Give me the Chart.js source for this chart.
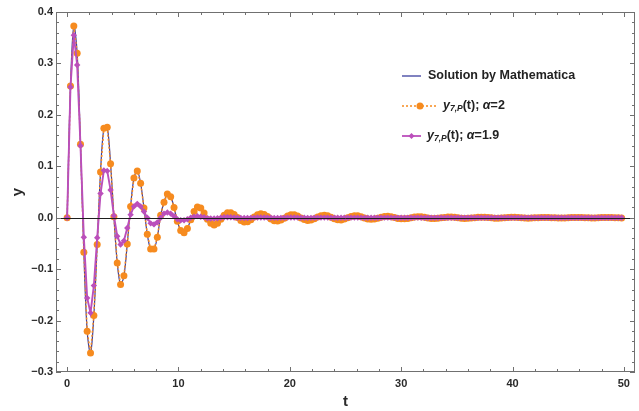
<!DOCTYPE html>
<html>
<head>
<meta charset="utf-8">
<script src="https://cdn.jsdelivr.net/npm/chart.js@4.4.1/dist/chart.umd.min.js"></script>
<style>
  html, body { margin: 0; padding: 0; background: #fff; }
  #wrap { width: 639px; height: 411px; position: relative; }
</style>
</head>
<body>
<div id="wrap"><canvas id="chart"></canvas></div>
<script>
// sample times
const tValues = [
    0, 0.3, 0.6, 0.9, 1.2, 1.5, 1.8, 2.1, 2.4, 2.7,
    3, 3.3, 3.6, 3.9, 4.2, 4.5, 4.8, 5.1, 5.4, 5.7,
    6, 6.3, 6.6, 6.9, 7.2, 7.5, 7.8, 8.1, 8.4, 8.7,
    9, 9.3, 9.6, 9.9, 10.2, 10.5, 10.8, 11.1, 11.4, 11.7,
    12, 12.3, 12.6, 12.9, 13.2, 13.5, 13.8, 14.1, 14.4, 14.7,
    15, 15.3, 15.6, 15.9, 16.2, 16.5, 16.8, 17.1, 17.4, 17.7,
    18, 18.3, 18.6, 18.9, 19.2, 19.5, 19.8, 20.1, 20.4, 20.7,
    21, 21.3, 21.6, 21.9, 22.2, 22.5, 22.8, 23.1, 23.4, 23.7,
    24, 24.3, 24.6, 24.9, 25.2, 25.5, 25.8, 26.1, 26.4, 26.7,
    27, 27.3, 27.6, 27.9, 28.2, 28.5, 28.8, 29.1, 29.4, 29.7,
    30, 30.3, 30.6, 30.9, 31.2, 31.5, 31.8, 32.1, 32.4, 32.7,
    33, 33.3, 33.6, 33.9, 34.2, 34.5, 34.8, 35.1, 35.4, 35.7,
    36, 36.3, 36.6, 36.9, 37.2, 37.5, 37.8, 38.1, 38.4, 38.7,
    39, 39.3, 39.6, 39.9, 40.2, 40.5, 40.8, 41.1, 41.4, 41.7,
    42, 42.3, 42.6, 42.9, 43.2, 43.5, 43.8, 44.1, 44.4, 44.7,
    45, 45.3, 45.6, 45.9, 46.2, 46.5, 46.8, 47.1, 47.4, 47.7,
    48, 48.3, 48.6, 48.9, 49.2, 49.5, 49.8
];

// y7,P(t) with alpha = 2
const alpha2Y = [
    0, 0.256, 0.373, 0.320, 0.143, -0.067, -0.221, -0.263, -0.190, -0.052,
    0.089, 0.174, 0.176, 0.105, 0.002, -0.088, -0.130, -0.113, -0.051, 0.022,
    0.077, 0.091, 0.067, 0.019, -0.032, -0.061, -0.061, -0.038, 0.005, 0.030,
    0.046, 0.041, 0.020, -0.007, -0.025, -0.029, -0.021, -0.004, 0.012, 0.021,
    0.019, 0.009, -0.003, -0.011, -0.014, -0.011, -0.003, 0.005, 0.0095, 0.0098,
    0.0061, 0.0002, -0.0054, -0.0085, -0.0079, -0.0040, 0.0014, 0.0060, 0.0077, 0.0062,
    0.0022, -0.0025, -0.0060, -0.0066, -0.0046, -0.0008, 0.0032, 0.0056, 0.0056, 0.0032,
    -0.0004, -0.0037, -0.0054, -0.0046, -0.0021, 0.0013, 0.0039, 0.0048, 0.0036, 0.0010,
    -0.0019, -0.0040, -0.0043, -0.0027, -0.0001, 0.0025, 0.0039, 0.0037, 0.0019, -0.0006,
    -0.0023, -0.0031, -0.0026, -0.0009, 0.0010, 0.0025, 0.0029, 0.0020, 0.0003, -0.0014,
    -0.0021, -0.0021, -0.0013, 0.0001, 0.0014, 0.0021, 0.0018, 0.0008, -0.0005, -0.0016,
    -0.0015, -0.0012, -0.0003, 0.0006, 0.0013, 0.0014, 0.0009, 0.0001, -0.0008, -0.0013,
    -0.0010, -0.0005, 0.0001, 0.0008, 0.0010, 0.0009, 0.0003, -0.0003, -0.0008, -0.0009,
    -0.0006, -0.0001, 0.0004, 0.0008, 0.0008, 0.0005, 0.0000, -0.0005, -0.0008, -0.0007,
    -0.0003, 0.0001, 0.0005, 0.0006, 0.0005, 0.0001, -0.0002, -0.0005, -0.0006, -0.0004,
    0.0000, 0.0003, 0.0005, 0.0005, 0.0002, -0.0001, -0.0003, -0.0005, -0.0004, -0.0002,
    0.0002, 0.0004, 0.0005, 0.0003, 0.0001, -0.0002, -0.0004
];

// y7,P(t) with alpha = 1.9
const alpha19Y = [
    0, 0.254, 0.355, 0.297, 0.140, -0.038, -0.156, -0.185, -0.132, -0.039,
    0.047, 0.092, 0.091, 0.054, 0.004, -0.036, -0.052, -0.045, -0.020, 0.006,
    0.022, 0.027, 0.022, 0.012, 0.000, -0.011, -0.013, -0.009, 0.000, 0.008,
    0.010, 0.008, 0.003, -0.003, -0.005, -0.005, -0.003, 0.000, 0.002, 0.003,
    0.002, 0.001, -0.001, -0.0015, -0.0015, -0.001, 0.000, 0.0008, 0.001, 0.001,
    0.0005, 0.0000, -0.0004, -0.0006, -0.0006, -0.0003, 0.0001, 0.0004, 0.0005, 0.0004,
    0.0002, -0.0002, -0.0004, -0.0004, -0.0003, -0.0001, 0.0002, 0.0003, 0.0003, 0.0002,
    0.0000, -0.0002, -0.0003, -0.0003, -0.0001, 0.0001, 0.0002, 0.0002, 0.0002, 0.0000,
    -0.0001, -0.0002, -0.0002, -0.0001, 0.0000, 0.0001, 0.0001, 0.0001, 0.0001, 0.0000,
    -0.0001, -0.0001, -0.0001, 0.0000, 0.0000, 0.0001, 0.0001, 0.0001, 0.0000, 0.0000,
    -0.0001, -0.0001, 0, 0, 0.0001, 0.0001, 0, 0, 0, -0.0001,
    0, 0, 0, 0, 0, 0, 0, 0, 0, 0,
    0, 0, 0, 0, 0, 0, 0, 0, 0, 0,
    0, 0, 0, 0, 0, 0, 0, 0, 0, 0,
    0, 0, 0, 0, 0, 0, 0, 0, 0, 0,
    0, 0, 0, 0, 0, 0, 0, 0, 0, 0,
    0, 0, 0, 0, 0, 0, 0
];

// the alpha = 2 approximation sits on top of Mathematica's solution
const solutionY = alpha2Y;

const xTicks = [0, 10, 20, 30, 40, 50];
const yTicks = [-0.3, -0.2, -0.1, 0, 0.1, 0.2, 0.3, 0.4];

const BLUE = '#3c3f9e';
const ORANGE = '#f68b1f';
const PURPLE = '#bb4fbb';
const FONT = '"Liberation Sans", Arial, sans-serif';

const toPoints = ys => tValues.map((t, i) => ({ x: t, y: ys[i] }));

// frame with inward ticks on all four sides, plus the y = 0 axis
const framePlugin = {
    id: 'frame',
    afterDatasetsDraw(chart) {
        const { ctx, chartArea: a, scales: { x, y } } = chart;
        ctx.save();
        ctx.lineWidth = 1;

        const y0 = Math.round(y.getPixelForValue(0)) + 0.5;
        ctx.strokeStyle = '#1e1e1e';
        ctx.beginPath();
        ctx.moveTo(a.left, y0);
        ctx.lineTo(a.right, y0);
        ctx.stroke();

        ctx.strokeStyle = '#707070';
        ctx.strokeRect(a.left + 0.5, a.top + 0.5, a.right - a.left - 1, a.bottom - a.top - 1);

        ctx.beginPath();
        for (let v = 0; v <= 50; v += 2) {
            const len = v % 10 === 0 ? 5 : 3;
            const px = Math.round(x.getPixelForValue(v)) + 0.5;
            ctx.moveTo(px, a.bottom);
            ctx.lineTo(px, a.bottom - len);
            ctx.moveTo(px, a.top);
            ctx.lineTo(px, a.top + len);
        }
        for (let i = -15; i <= 20; i++) {
            const len = i % 5 === 0 ? 5 : 3;
            const py = Math.round(y.getPixelForValue(i * 0.02)) + 0.5;
            ctx.moveTo(a.left, py);
            ctx.lineTo(a.left + len, py);
            ctx.moveTo(a.right, py);
            ctx.lineTo(a.right - len, py);
        }
        ctx.stroke();
        ctx.restore();
    }
};

function drawRich(ctx, x, y, parts) {
    parts.forEach(p => {
        ctx.font = p.font;
        ctx.fillText(p.text, x, y + (p.dy || 0));
        x += ctx.measureText(p.text).width;
    });
}

// legend with the subscripted labels
const legendPlugin = {
    id: 'richLegend',
    afterDraw(chart) {
        const ctx = chart.ctx;
        const bold = 'bold 12.5px ' + FONT;
        const boldIt = 'italic bold 12.5px ' + FONT;
        const sub = 'italic bold 8.5px ' + FONT;
        ctx.save();
        ctx.textBaseline = 'middle';
        ctx.fillStyle = '#222';

        // row 1
        ctx.strokeStyle = BLUE;
        ctx.lineWidth = 1.3;
        ctx.beginPath();
        ctx.moveTo(402, 76);
        ctx.lineTo(421, 76);
        ctx.stroke();
        drawRich(ctx, 428, 76, [{ text: 'Solution by Mathematica', font: bold }]);

        // row 2
        ctx.strokeStyle = ORANGE;
        ctx.lineWidth = 1.6;
        ctx.setLineDash([2, 2]);
        ctx.beginPath();
        ctx.moveTo(402, 106);
        ctx.lineTo(436, 106);
        ctx.stroke();
        ctx.setLineDash([]);
        ctx.fillStyle = ORANGE;
        ctx.beginPath();
        ctx.arc(420, 106, 3.5, 0, Math.PI * 2);
        ctx.fill();
        ctx.fillStyle = '#222';
        drawRich(ctx, 443, 106, [
            { text: 'y', font: boldIt },
            { text: '7,P', font: sub, dy: 3 },
            { text: '(t); ', font: bold },
            { text: 'α', font: boldIt },
            { text: '=2', font: bold }
        ]);

        // row 3
        ctx.strokeStyle = PURPLE;
        ctx.lineWidth = 1.8;
        ctx.beginPath();
        ctx.moveTo(402, 136);
        ctx.lineTo(421, 136);
        ctx.stroke();
        ctx.fillStyle = PURPLE;
        ctx.beginPath();
        ctx.moveTo(411.5, 133);
        ctx.lineTo(414.5, 136);
        ctx.lineTo(411.5, 139);
        ctx.lineTo(408.5, 136);
        ctx.closePath();
        ctx.fill();
        ctx.fillStyle = '#222';
        drawRich(ctx, 427, 136, [
            { text: 'y', font: boldIt },
            { text: '7,P', font: sub, dy: 3 },
            { text: '(t); ', font: bold },
            { text: 'α', font: boldIt },
            { text: '=1.9', font: bold }
        ]);
        ctx.restore();
    }
};

const tickFont = { family: FONT, size: 11, weight: 'bold' };
const titleFont = { family: FONT, size: 15, weight: 'bold' };

new Chart(document.getElementById('chart'), {
    type: 'line',
    data: {
        datasets: [
            {
                label: 'y7,P(t); α=1.9',
                data: toPoints(alpha19Y),
                borderColor: PURPLE,
                backgroundColor: PURPLE,
                borderWidth: 1.9,
                pointStyle: 'rectRot',
                pointRadius: 3.2,
                pointBorderWidth: 0,
                tension: 0,
                order: 0
            },
            {
                label: 'y7,P(t); α=2',
                data: toPoints(alpha2Y),
                borderColor: ORANGE,
                backgroundColor: ORANGE,
                borderWidth: 1.5,
                borderDash: [2, 2],
                pointStyle: 'circle',
                pointRadius: 3.5,
                pointBorderWidth: 0,
                tension: 0,
                order: 1
            },
            {
                label: 'Solution by Mathematica',
                data: toPoints(solutionY),
                borderColor: BLUE,
                borderWidth: 1.2,
                pointRadius: 0,
                tension: 0.35,
                order: 2
            }
        ]
    },
    options: {
        responsive: true,
        maintainAspectRatio: false,
        animation: false,
        events: [],
        layout: { padding: { top: 12, right: 3, left: 0, bottom: 0 } },
        plugins: {
            legend: { display: false },
            tooltip: { enabled: false }
        },
        scales: {
            x: {
                type: 'linear',
                min: -1,
                max: 51,
                grid: { display: false, drawTicks: false },
                border: { display: false },
                ticks: { font: tickFont, color: '#2a2a2a', padding: 5, maxRotation: 0, autoSkip: false },
                title: { display: true, text: 't', font: titleFont, color: '#2a2a2a', padding: { top: 0, bottom: 0 } },
                afterBuildTicks: axis => { axis.ticks = xTicks.map(v => ({ value: v })); },
                afterFit: axis => { axis.height = 39; }
            },
            y: {
                type: 'linear',
                min: -0.3,
                max: 0.4,
                grid: { display: false, drawTicks: false },
                border: { display: false },
                ticks: {
                    font: tickFont,
                    color: '#2a2a2a',
                    padding: 3,
                    autoSkip: false,
                    callback: v => (v < -1e-9 ? '\u2212' : '') + Math.abs(v).toFixed(1)
                },
                title: { display: true, text: 'y', font: titleFont, color: '#2a2a2a', padding: { top: 9, bottom: 0 } },
                afterBuildTicks: axis => { axis.ticks = yTicks.map(v => ({ value: v })); },
                afterFit: axis => { axis.width = 56; }
            }
        }
    },
    plugins: [framePlugin, legendPlugin]
});
</script>
</body>
</html>
